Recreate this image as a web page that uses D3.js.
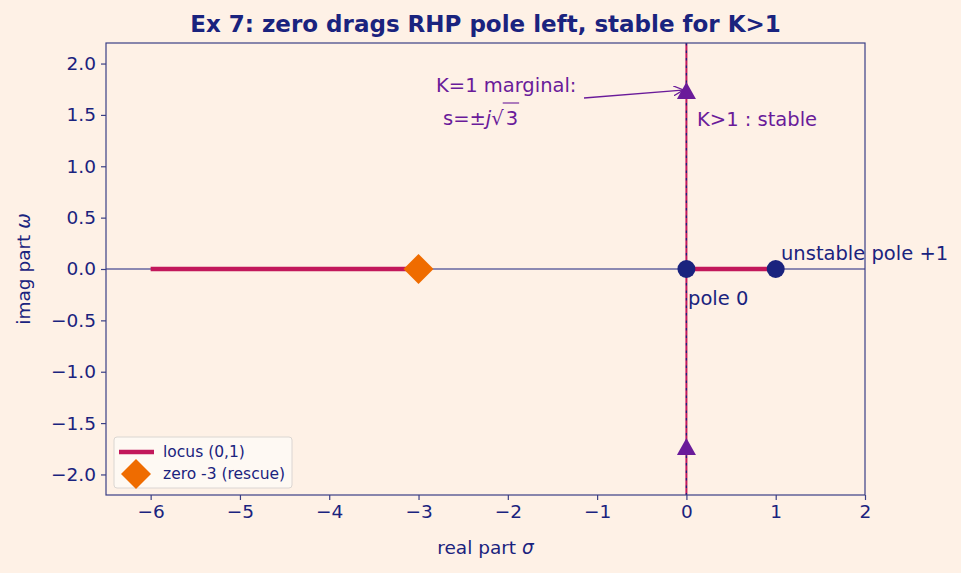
<!DOCTYPE html>
<html>
<head>
<meta charset="utf-8">
<script src="https://cdn.jsdelivr.net/npm/d3@7"></script>
<style>
  body { margin: 0; background: #fef1e6; }
  text { font-family: "DejaVu Sans", sans-serif; }
</style>
</head>
<body>
<div id="chart"></div>
<script>
// data
var xTicks = [-6, -5, -4, -3, -2, -1, 0, 1, 2];
var yTicks = [-2.0, -1.5, -1.0, -0.5, 0.0, 0.5, 1.0, 1.5, 2.0];
var locusReal = [[-6, -3], [0, 1]];      // real-axis locus segments
var locusImag = [[0, -2.2], [0, 2.2]];   // branch along jw axis
var poles = [0, 1];
var zeros = [-3];
var marginal = [Math.sqrt(3), -Math.sqrt(3)];

var navy = "#1a237e", crimson = "#c2185b", orange = "#ef6c00", purple = "#6a1b9a";
var width = 961, height = 573;
var m = { left: 106, right: 865, top: 43, bottom: 495 };

var svg = d3.select("#chart").append("svg")
  .attr("width", width).attr("height", height);

svg.append("rect").attr("width", width).attr("height", height).attr("fill", "#fef1e6");

var x = d3.scaleLinear().domain([-6.5, 2]).range([m.left, m.right]);
var y = d3.scaleLinear().domain([-2.2, 2.2]).range([m.bottom, m.top]);

var plot = svg.append("g");

// axis lines at zero
plot.append("line")
  .attr("x1", m.left).attr("x2", m.right)
  .attr("y1", y(0)).attr("y2", y(0))
  .style("stroke", navy).style("stroke-width", 1.2);

// jw-axis locus branch: crimson with navy dashes
plot.append("line")
  .attr("x1", x(locusImag[0][0])).attr("x2", x(locusImag[1][0]))
  .attr("y1", y(locusImag[0][1])).attr("y2", y(locusImag[1][1]))
  .style("stroke", crimson).style("stroke-width", 2);
plot.append("line")
  .attr("x1", x(0)).attr("x2", x(0))
  .attr("y1", m.top).attr("y2", m.bottom)
  .style("stroke", navy).style("stroke-width", 1.2)
  .style("stroke-dasharray", "2.5,5");

// real-axis locus segments
plot.selectAll(".seg").data(locusReal).enter().append("line")
  .attr("class", "seg")
  .attr("x1", function(d) { return x(d[0]); })
  .attr("x2", function(d) { return x(d[1]); })
  .attr("y1", y(0)).attr("y2", y(0))
  .style("stroke", crimson).style("stroke-width", 4.5);

// zero diamond
plot.selectAll(".zero").data(zeros).enter().append("path")
  .attr("class", "zero")
  .attr("d", "M0,-15L15,0L0,15L-15,0Z")
  .attr("transform", function(d) { return "translate(" + x(d) + "," + y(0) + ")"; })
  .style("fill", orange);

// poles
plot.selectAll(".pole").data(poles).enter().append("circle")
  .attr("class", "pole")
  .attr("cx", function(d) { return x(d); })
  .attr("cy", y(0))
  .attr("r", 9)
  .style("fill", navy);

// marginal crossing triangles
plot.selectAll(".tri").data(marginal).enter().append("path")
  .attr("class", "tri")
  .attr("d", "M0,-10L9.5,7L-9.5,7Z")
  .attr("transform", function(d) { return "translate(" + x(0) + "," + (y(d) + 1) + ")"; })
  .style("fill", purple);

// annotations
svg.append("defs").append("marker")
  .attr("id", "arr").attr("viewBox", "0 0 10 10")
  .attr("refX", 9).attr("refY", 5)
  .attr("markerWidth", 10).attr("markerHeight", 10)
  .attr("markerUnits", "userSpaceOnUse")
  .attr("orient", "auto")
  .append("path").attr("d", "M0,0L10,5L0,10")
  .style("fill", "none").style("stroke", purple).style("stroke-width", 1.3);

plot.append("line")
  .attr("x1", 584).attr("y1", 98)
  .attr("x2", x(0) - 4).attr("y2", y(Math.sqrt(3)) - 1)
  .style("stroke", purple).style("stroke-width", 1.3)
  .attr("marker-end", "url(#arr)");

plot.append("text").attr("x", 436).attr("y", 92)
  .style("font-size", "19.5px").style("fill", purple)
  .text("K=1 marginal:");

var s3 = plot.append("text").attr("x", 443).attr("y", 125)
  .style("font-size", "19.5px").style("fill", purple);
s3.append("tspan").text("s=±");
s3.append("tspan").style("font-style", "italic").text("j");
s3.append("tspan").text("√");
s3.append("tspan").attr("dx", 2).text("3");
// overline of the root sign, placed over the "3"
var s3n = s3.node();
var last = s3n.getNumberOfChars() - 1;
var pos3 = s3n.getStartPositionOfChar(last);
var len3 = s3n.getSubStringLength(last, 1);
plot.append("line")
  .attr("x1", pos3.x - 3).attr("x2", pos3.x + len3 + 1)
  .attr("y1", 103).attr("y2", 103)
  .style("stroke", purple).style("stroke-width", 1.1);

plot.append("text").attr("x", 697).attr("y", 126)
  .style("font-size", "19.5px").style("fill", purple)
  .text("K>1 : stable");

plot.append("text").attr("x", 781).attr("y", 260)
  .style("font-size", "19.5px").style("fill", navy)
  .text("unstable pole +1");

plot.append("text").attr("x", 688).attr("y", 305)
  .style("font-size", "19.5px").style("fill", navy)
  .text("pole 0");

// frame
svg.append("rect")
  .attr("x", m.left).attr("y", m.top)
  .attr("width", m.right - m.left).attr("height", m.bottom - m.top)
  .style("fill", "none").style("stroke", "#3a3f85").style("stroke-width", 1.2);

// axes
var xAxis = svg.append("g")
  .attr("transform", "translate(0," + m.bottom + ")")
  .call(d3.axisBottom(x).tickValues(xTicks).tickSize(5).tickPadding(5)
    .tickFormat(function(d) { return d < 0 ? "\u2212" + Math.abs(d) : d; }));
var yAxis = svg.append("g")
  .attr("transform", "translate(" + m.left + ",0)")
  .call(d3.axisLeft(y).tickValues(yTicks).tickSize(5).tickPadding(5)
    .tickFormat(function(d) { return d < 0 ? "\u2212" + Math.abs(d).toFixed(1) : d.toFixed(1); }));

[xAxis, yAxis].forEach(function(a) {
  a.select(".domain").remove();
  a.selectAll("line").style("stroke", "#3a3f85").style("stroke-width", 1.2);
  a.selectAll("text").style("font-size", "18.5px").style("fill", navy)
    .style("font-family", "DejaVu Sans, sans-serif");
});

// labels
var xl = svg.append("text").attr("x", (m.left + m.right) / 2).attr("y", 554)
  .style("text-anchor", "middle").style("font-size", "18.5px").style("fill", navy);
xl.append("tspan").text("real part ");
xl.append("tspan").style("font-style", "italic").text("σ");

var yl = svg.append("text")
  .attr("transform", "translate(30," + ((m.top + m.bottom) / 2) + ") rotate(-90)")
  .style("text-anchor", "middle").style("font-size", "18.5px").style("fill", navy);
yl.append("tspan").text("imag part ");
yl.append("tspan").style("font-style", "italic").text("ω");

svg.append("text").attr("x", (m.left + m.right) / 2).attr("y", 32)
  .style("text-anchor", "middle").style("font-size", "23px")
  .style("font-weight", "bold").style("fill", navy)
  .text("Ex 7: zero drags RHP pole left, stable for K>1");

// legend
var lg = svg.append("g").attr("transform", "translate(114,437)");
lg.append("rect").attr("width", 178).attr("height", 51).attr("rx", 3)
  .style("fill", "#fffaf5").style("stroke", "#d8d4d0").style("opacity", 0.9);
lg.append("line").attr("x1", 5).attr("x2", 40).attr("y1", 15).attr("y2", 15)
  .style("stroke", crimson).style("stroke-width", 4.5);
lg.append("path").attr("d", "M0,-15L15,0L0,15L-15,0Z")
  .attr("transform", "translate(22,37)").style("fill", orange);
lg.append("text").attr("x", 49).attr("y", 20).style("font-size", "15.5px").style("fill", navy)
  .text("locus (0,1)");
lg.append("text").attr("x", 49).attr("y", 42).style("font-size", "15.5px").style("fill", navy)
  .text("zero -3 (rescue)");
</script>
</body>
</html>
